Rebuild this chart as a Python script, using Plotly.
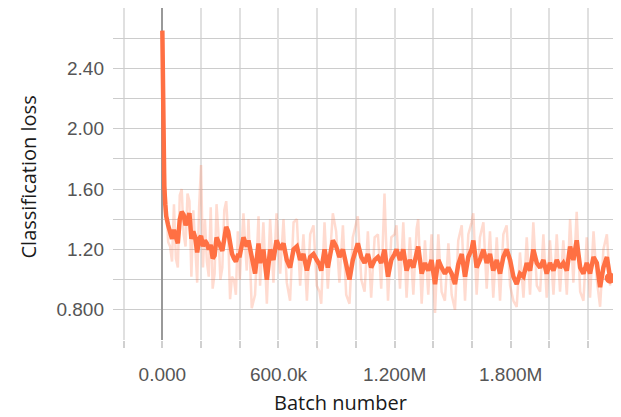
import plotly.graph_objects as go

# Batch number in thousands
batch_k = [0, 5, 10, 15, 20, 30, 40, 50, 60, 70, 80, 90, 100, 110, 120, 130, 140, 150, 160, 170,
           180, 190, 200, 210, 220, 230, 240, 250, 260, 270, 280, 290, 300, 310, 320, 330, 340, 350,
           360, 370, 380, 390, 400, 419, 436, 445, 462, 479, 497, 505, 522, 540, 557, 574, 590, 609,
           626, 643, 660, 678, 695, 712, 729, 747, 764, 781, 798, 812, 821, 838, 855, 881, 898, 915,
           933, 950, 967, 984, 1010, 1028, 1045, 1062, 1079, 1097, 1114, 1131, 1148, 1166, 1183, 1200,
           1210, 1228, 1245, 1262, 1279, 1297, 1314, 1322, 1340, 1357, 1374, 1391, 1409, 1426, 1443,
           1460, 1478, 1495, 1512, 1529, 1547, 1564, 1581, 1598, 1607, 1624, 1641, 1659, 1676, 1693,
           1710, 1728, 1745, 1762, 1779, 1797, 1814, 1831, 1848, 1866, 1883, 1900, 1917, 1935, 1952,
           1969, 1986, 2003, 2021, 2038, 2055, 2072, 2090, 2107, 2124, 2141, 2159, 2176, 2193, 2210,
           2228, 2245, 2262, 2279, 2297, 2314]

loss_smoothed = [2.65, 1.95, 1.62, 1.50, 1.42, 1.36, 1.30, 1.27, 1.33, 1.29, 1.24, 1.40, 1.45, 1.43, 1.36,
                 1.40, 1.44, 1.27, 1.32, 1.28, 1.18, 1.27, 1.29, 1.22, 1.26, 1.24, 1.20, 1.23, 1.14, 1.16,
                 1.28, 1.25, 1.22, 1.19, 1.27, 1.35, 1.32, 1.22, 1.17, 1.14, 1.12, 1.16, 1.16, 1.28, 1.22,
                 1.26, 1.13, 1.04, 1.24, 1.11, 1.20, 1.00, 1.20, 1.13, 1.26, 1.20, 1.24, 1.13, 1.08, 1.20,
                 1.22, 1.13, 1.17, 1.06, 1.15, 1.17, 1.13, 1.10, 1.06, 1.20, 1.08, 1.26, 1.22, 1.15, 1.20,
                 1.08, 1.00, 1.13, 1.24, 1.15, 1.11, 1.17, 1.08, 1.13, 1.15, 1.11, 1.20, 1.02, 1.13, 1.17,
                 1.20, 1.13, 1.20, 1.06, 1.13, 1.08, 1.20, 1.22, 1.04, 1.11, 1.06, 1.13, 0.97, 1.13, 1.08,
                 1.04, 1.08, 1.04, 0.97, 1.10, 1.17, 1.02, 1.15, 1.20, 1.26, 1.08, 1.13, 1.20, 1.11, 1.17,
                 1.06, 1.13, 1.04, 1.15, 1.20, 1.13, 1.02, 0.97, 1.04, 1.02, 1.11, 1.06, 1.20, 1.11, 1.08,
                 1.13, 1.04, 1.11, 1.06, 1.13, 1.08, 1.11, 1.06, 1.22, 1.13, 1.26, 1.08, 1.04, 1.11, 1.04,
                 1.15, 1.11, 0.95, 1.08, 1.15, 1.01]

loss_raw = [2.65, 2.05, 1.80, 1.62, 1.48, 1.25, 1.22, 1.12, 1.50, 1.14, 1.08, 1.56, 1.60, 1.30, 1.22,
            1.57, 1.52, 1.02, 1.46, 1.24, 0.98, 1.48, 1.76, 1.08, 1.40, 1.12, 1.02, 1.48, 0.94, 1.04,
            1.50, 1.30, 1.00, 1.08, 1.46, 1.52, 1.30, 0.87, 1.02, 1.00, 0.90, 1.32, 1.00, 1.44, 1.06,
            1.40, 0.81, 0.90, 1.42, 0.96, 1.38, 0.84, 1.40, 0.98, 1.44, 1.04, 1.40, 0.98, 0.86, 1.38,
            1.40, 0.96, 1.30, 0.86, 1.30, 1.36, 0.96, 0.92, 0.84, 1.38, 0.94, 1.44, 1.32, 0.98, 1.36,
            0.90, 0.84, 1.28, 1.42, 1.00, 0.92, 1.32, 0.88, 1.28, 1.30, 0.94, 1.57, 0.86, 1.28, 1.30,
            1.36, 0.94, 1.38, 0.88, 1.28, 0.90, 1.34, 1.40, 0.84, 1.26, 0.90, 1.30, 0.78, 1.30, 0.92,
            0.86, 1.24, 0.90, 0.80, 1.26, 1.36, 0.86, 1.30, 1.38, 1.44, 0.90, 1.28, 1.38, 0.94, 1.32,
            0.88, 1.28, 0.86, 1.30, 1.36, 0.96, 0.86, 0.82, 1.18, 0.88, 1.28, 0.90, 1.38, 0.96, 0.92,
            1.30, 0.88, 1.26, 0.90, 1.30, 0.92, 1.26, 0.90, 1.40, 0.98, 1.45, 0.92, 0.86, 1.28, 0.88,
            1.32, 1.00, 0.82, 1.20, 1.30, 0.96]

x_tick_vals = [0, 600000, 1200000, 1800000]
x_tick_text = ["0.000", "600.0k", "1.200M", "1.800M"]
y_tick_vals = [0.8, 1.2, 1.6, 2.0, 2.4]
y_tick_text = ["0.800", "1.20", "1.60", "2.00", "2.40"]

batch = [k * 1000 for k in batch_k]
ORANGE = "#ff7043"

fig = go.Figure()
fig.add_trace(go.Scatter(x=batch, y=loss_raw, mode="lines",
                         line=dict(color="rgba(255,112,67,0.25)", width=2.5),
                         hoverinfo="skip", showlegend=False))
fig.add_trace(go.Scatter(x=batch, y=loss_smoothed, mode="lines",
                         line=dict(color=ORANGE, width=4.5), showlegend=False))
fig.add_trace(go.Scatter(x=[batch[-1]], y=[loss_smoothed[-1]], mode="markers",
                         marker=dict(color=ORANGE, size=11), showlegend=False))

tick_font = dict(family="Liberation Sans, Arial, sans-serif", size=19, color="#555555")
title_font = dict(family="Open Sans, sans-serif", size=20, color="#1a1a1a")

# page body has an 8px default margin, so the figure is 8px smaller than the window
fig.update_layout(
    width=613, height=409,
    margin=dict(l=105, r=0, t=0, b=77, autoexpand=False),
    paper_bgcolor="white", plot_bgcolor="white",
    xaxis=dict(range=[-255000, 2370000], tickmode="array", tickvals=x_tick_vals,
               ticktext=x_tick_text, tickfont=tick_font, showgrid=True, automargin=False,
               gridcolor="#e0e0e0", gridwidth=2, zeroline=True, zerolinecolor="#999999",
               zerolinewidth=2, ticks="outside", ticklen=7, tickcolor="#d0d0d0", tickwidth=2,
               ticklabelstandoff=10, showline=False,
               minor=dict(tickmode="linear", tick0=0, dtick=200000, showgrid=True,
                          gridcolor="#e0e0e0", gridwidth=2, ticks="outside", ticklen=7,
                          tickcolor="#d0d0d0", tickwidth=2)),
    yaxis=dict(range=[0.6, 2.8], tickmode="array", tickvals=y_tick_vals, ticktext=y_tick_text,
               tickfont=tick_font, showgrid=True, gridcolor="#cccccc", gridwidth=1,
               automargin=False, zeroline=False, ticks="", ticklabelstandoff=8, showline=False,
               minor=dict(tickmode="linear", tick0=0.6, dtick=0.2, showgrid=True,
                          gridcolor="#cccccc", gridwidth=1)),
    annotations=[
        dict(text="Classification loss", xref="paper", yref="paper", x=-0.167, y=0.49,
             textangle=-90, showarrow=False, font=title_font, xanchor="center", yanchor="middle"),
        dict(text="Batch number", xref="paper", yref="paper", x=0.447, y=-0.187,
             showarrow=False, font=title_font, xanchor="center", yanchor="middle"),
    ],
)

fig.write_html("out.html")
